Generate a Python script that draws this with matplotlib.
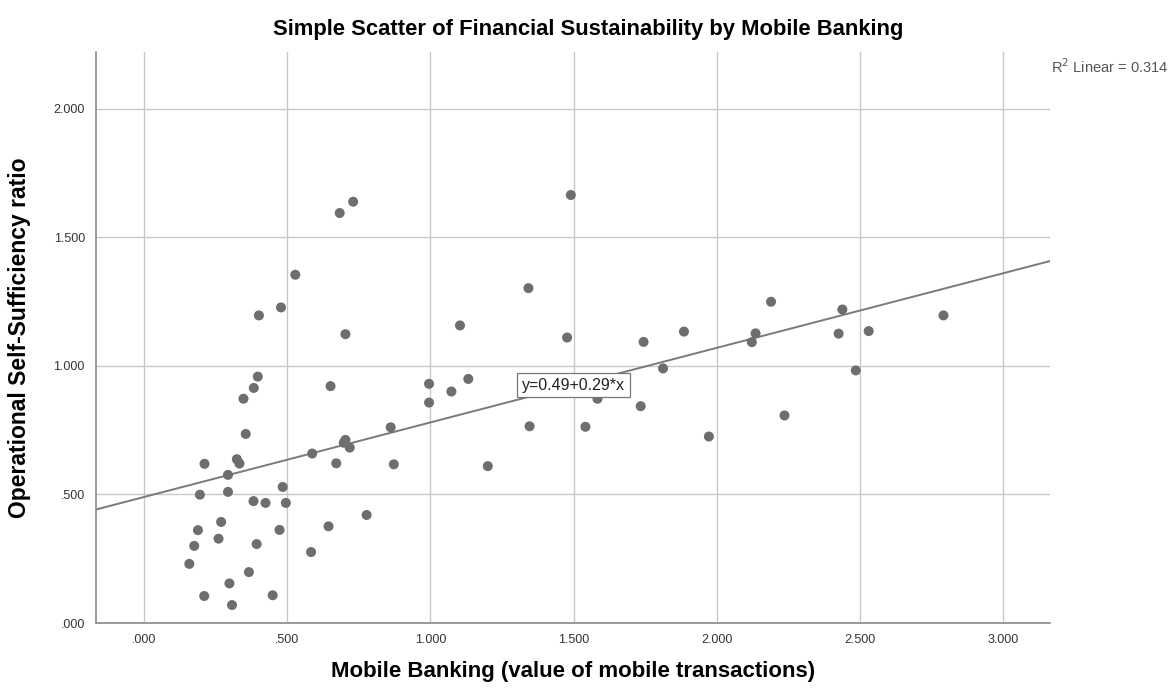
import numpy as np
import matplotlib
matplotlib.use('Agg')
import matplotlib.pyplot as plt

plt.rcParams['font.family'] = ['Liberation Sans', 'DejaVu Sans']

# Mobile banking (x) vs operational self-sufficiency ratio (y)
mobile_banking = [
    0.730, 0.683, 0.528, 0.478, 0.401, 0.703, 0.397, 0.383, 0.347, 0.651,
    0.355, 0.861, 0.703, 0.697, 0.718, 0.587, 0.211, 0.324, 0.333, 0.293,
    0.671, 0.872, 0.195, 0.293, 0.484, 0.382, 0.424, 0.495, 0.269, 0.188,
    0.473, 0.777, 0.644, 0.260, 0.175, 0.393, 0.583, 0.158, 0.366, 0.298,
    0.210, 0.449, 0.307, 1.490, 1.342, 1.103, 1.477, 1.744, 1.885, 1.812,
    0.995, 1.073, 1.132, 0.995, 1.583, 1.734, 1.346, 1.541, 1.200, 2.189,
    2.438, 2.135, 2.122, 2.425, 2.530, 2.791, 2.485, 2.236, 1.972,
]
oss_ratio = [
    1.638, 1.594, 1.354, 1.227, 1.196, 1.123, 0.958, 0.914, 0.872, 0.921,
    0.735, 0.761, 0.712, 0.701, 0.682, 0.659, 0.619, 0.637, 0.620, 0.576,
    0.621, 0.617, 0.499, 0.510, 0.529, 0.474, 0.467, 0.467, 0.393, 0.361,
    0.362, 0.420, 0.376, 0.328, 0.300, 0.307, 0.276, 0.230, 0.198, 0.154,
    0.105, 0.108, 0.070, 1.664, 1.302, 1.157, 1.110, 1.093, 1.133, 0.990,
    0.930, 0.900, 0.949, 0.857, 0.872, 0.843, 0.765, 0.763, 0.610, 1.249,
    1.219, 1.126, 1.092, 1.125, 1.135, 1.196, 0.982, 0.807, 0.725,
]

# fit reported on the chart
intercept = 0.49
slope = 0.29
r_squared = 0.314

x_ticks = [0.0, 0.5, 1.0, 1.5, 2.0, 2.5, 3.0]
y_ticks = [0.0, 0.5, 1.0, 1.5, 2.0]


def spss_fmt(v):
    s = f'{v:.3f}'
    return s[1:] if v < 1 else s


fig = plt.figure(figsize=(11.76, 6.98), dpi=100)
ax = fig.add_axes([0.0816, 0.1074, 0.8115, 0.8181])

xmin, xmax = -0.168, 3.164
ymin, ymax = 0.0, 2.22

ax.grid(True, color='#c8c8c8', linewidth=1.0)
ax.set_axisbelow(True)

ax.scatter(mobile_banking, oss_ratio, s=52, color='#6e6e6e', edgecolors='none', zorder=3)

# regression line across full x range
line_x = np.array([xmin, xmax])
ax.plot(line_x, intercept + slope * line_x, color='#7a7a7a', linewidth=1.4, zorder=2)

ax.text(1.5, intercept + slope * 1.5, 'y=0.49+0.29*x', ha='center', va='center',
        fontsize=11.5, color='#222222', zorder=4,
        bbox=dict(boxstyle='square,pad=0.3', facecolor='white', edgecolor='#777777', linewidth=0.9))

ax.set_xlim(xmin, xmax)
ax.set_ylim(ymin, ymax)
ax.set_xticks(x_ticks)
ax.set_yticks(y_ticks)
ax.set_xticklabels([spss_fmt(v) for v in x_ticks])
ax.set_yticklabels([spss_fmt(v) for v in y_ticks])
ax.tick_params(length=0, labelsize=9, labelcolor='#333333', pad=8)

for side in ['top', 'right']:
    ax.spines[side].set_visible(False)
for side in ['left', 'bottom']:
    ax.spines[side].set_color('#8a8a8a')
    ax.spines[side].set_linewidth(1.2)

ax.set_xlabel('Mobile Banking (value of mobile transactions)', fontsize=16,
              fontweight='bold', labelpad=11)
ax.set_ylabel('Operational Self-Sufficiency ratio', fontsize=16.5,
              fontweight='bold', labelpad=16)
fig.text(0.5, 0.958, 'Simple Scatter of Financial Sustainability by Mobile Banking',
         ha='center', va='center', fontsize=15.8, fontweight='bold')

fig.text(0.894, 0.905, f'R$^2$ Linear = {r_squared}', ha='left', va='center',
         fontsize=10.5, color='#555555')

fig.savefig('out.png', dpi=100)
